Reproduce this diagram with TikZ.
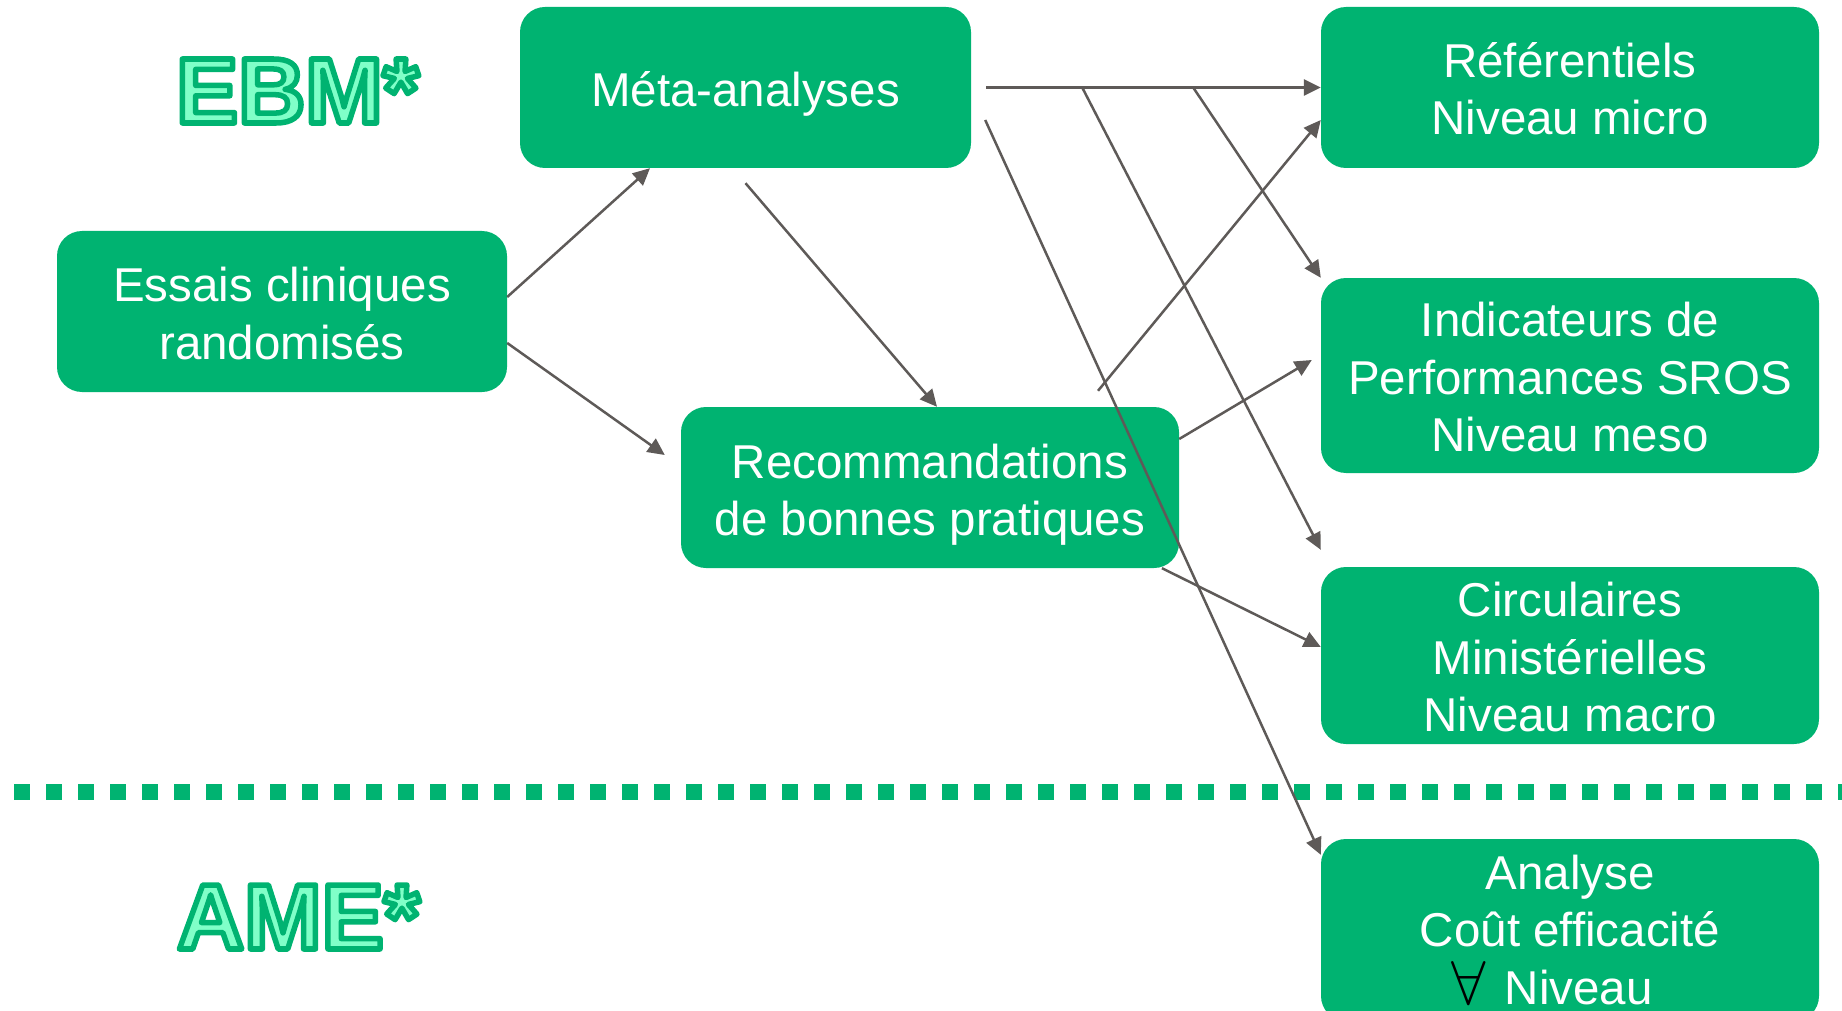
\RequirePackage{fix-cm}
\documentclass[tikz,border=0pt]{standalone}
\usepackage{fontspec}
\setmainfont{Liberation Sans}
\usetikzlibrary{arrows.meta}
\definecolor{boxgreen}{RGB}{0,179,113}
\definecolor{mint}{RGB}{128,255,200}
\definecolor{linkgray}{RGB}{94,90,88}
% filled letters with a green stroke round them (PDF text render mode 2)
\newcommand\hollowtext[1]{\special{pdf:literal direct 0 0.702 0.443 RG 5.5 w 1 j 2 Tr}#1\special{pdf:literal direct 0 Tr}}
\newcommand\forallsign{{\color{black}\fontsize{62}{57.5}\selectfont$\forall$}}

\begin{document}
\begin{tikzpicture}[x=1pt,y=-1pt,
  card/.style={draw=none, fill=boxgreen, rounded corners=25pt, inner sep=0pt},
  cardtext/.style={text=white, inner sep=0pt, align=center, font=\fontsize{47.5}{57.5}\selectfont},
  link/.style={draw=linkgray, line width=2.5pt, -{Triangle[length=17pt,width=16pt]}},
  badge/.style={text=mint, inner sep=0pt, font=\fontsize{93}{100}\selectfont\bfseries},
  separator/.style={draw=boxgreen, line width=16pt, dash pattern=on 16pt off 16pt}]
\useasboundingbox (0,0) rectangle (1842,1011);

% level labels
\node[badge] (ebm) at (297.5,91) {\hollowtext{EBM*}};
\node[badge] (ame) at (298.5,917) {\hollowtext{AME*}};

% boxes
\node[card, minimum width=451pt, minimum height=161pt] (meta) at (745.5,87.5) {};
\node[card, minimum width=450pt, minimum height=161pt] (essais) at (282,311.5) {};
\node[card, minimum width=498pt, minimum height=161pt] (recom) at (930,487.5) {};
\node[card, minimum width=498pt, minimum height=161pt] (ref) at (1570,87.5) {};
\node[card, minimum width=498pt, minimum height=195pt] (ind) at (1570,375.5) {};
\node[card, minimum width=498pt, minimum height=177pt] (circ) at (1570,655.5) {};
\node[card, minimum width=498pt, minimum height=182pt] (ana) at (1570,930) {};

% box captions
\node[cardtext] (metaT) at ([yshift=-6pt]meta.center) {Méta-analyses};
\node[cardtext] (essaisT) at ([yshift=-2pt]essais.center) {Essais cliniques\\randomisés};
\node[cardtext] (recomT) at ([yshift=-7pt]recom.center) {Recommandations\\de bonnes pratiques};
\node[cardtext] (refT) at ([yshift=-1pt]ref.center) {Référentiels\\Niveau micro};
\node[cardtext] (indT) at ([yshift=-2pt]ind.center) {Indicateurs de\\Performances SROS\\Niveau meso};
\node[cardtext] (circT) at ([yshift=-2pt]circ.center) {Circulaires\\Ministérielles\\Niveau macro};
\node[cardtext] (anaT) at (ana.center) {Analyse\\Coût efficacité\\\forallsign\hspace{0.4em}Niveau\hspace*{36pt}};

% dotted divider between the two levels
\coordinate (divL) at (14,792);
\coordinate (divR) at (1842,792);
\draw[separator] (divL) -- (divR);

% branch points on the top connector, and the loose start of one link
\coordinate (b1) at ([xshift=111pt]meta.east);
\coordinate (b2) at ([xshift=222pt]meta.east);
\coordinate (loose) at ([xshift=168pt,yshift=16pt]recom.north);

% connectors
\draw[link] ([yshift=14.5pt]essais.east) -- ([xshift=-95.5pt]meta.south);
\draw[link] ([yshift=-31.5pt]essais.east) -- ([xshift=-16pt,yshift=32.5pt]recom.west);
\draw[link] ([yshift=-15pt]meta.south) -- ([xshift=7pt]recom.north);
\draw[link] ([xshift=15pt]meta.east) -- (ref.west);
\draw[link] (b1) -- ([yshift=17pt]circ.north west);
\draw[link] (b2) -- (ind.north west);
\draw[link] ([xshift=14pt,yshift=-32.5pt]meta.east) -- ([yshift=-16pt]ana.north west);
\draw[link] (loose) -- ([yshift=-32.5pt]ref.west);
\draw[link] ([yshift=48.5pt]recom.east) -- ([xshift=-9pt,yshift=15.5pt]ind.west);
\draw[link] ([xshift=232pt]recom.south) -- ([yshift=8.5pt]circ.west);
\end{tikzpicture}
\end{document}
